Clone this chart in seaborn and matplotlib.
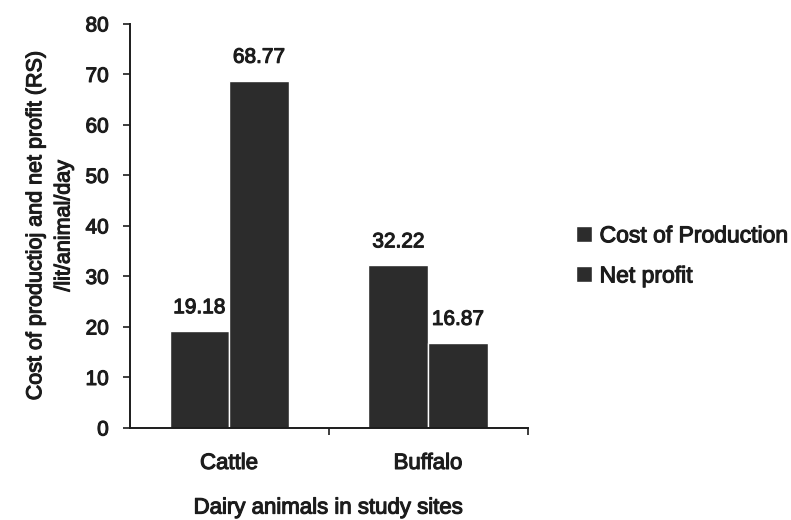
# Import libraries
import pandas as pd
import matplotlib.pyplot as plt
import matplotlib.patheffects as pe
import seaborn as sns

# Chart data
animals = ["Cattle", "Buffalo"]
series = ["Cost of Production", "Net profit"]
cost_of_production = [19.18, 32.22]
net_profit = [68.77, 16.87]

# Long-form table for seaborn
df = pd.DataFrame({
    "Animal": animals * 2,
    "Series": [series[0]] * 2 + [series[1]] * 2,
    "Value": cost_of_production + net_profit,
})

sns.set_style("white")
plt.rcParams['font.family'] = ['Liberation Sans', 'DejaVu Sans']

ink = "#1c1c1c"
# scanned print looks heavy, so thicken regular text a little
heavy = [pe.withStroke(linewidth=0.8, foreground=ink)]

fig = plt.figure(figsize=(7.91, 5.2), dpi=100)
ax = fig.add_axes([0.164, 0.177, 0.503, 0.777])

bar_color = "#2c2c2c"
sns.barplot(data=df, x="Animal", y="Value", hue="Series", order=animals,
            hue_order=series, palette=[bar_color, bar_color], width=0.6,
            edgecolor="white", linewidth=1, ax=ax)

# Value labels above bars
for container in ax.containers:
    for t in ax.bar_label(container, fmt="%.2f", padding=10, fontsize=15, color=ink):
        t.set_path_effects(heavy)

# Axes styling
ax.set_ylim(0, 80)
ax.set_xlim(-0.5, 1.5)
ax.set_yticks(range(0, 81, 10))
ax.tick_params(axis="y", direction="out", length=5, width=1.2, left=True,
               labelsize=15, pad=10, color=ink, labelcolor=ink)
ax.tick_params(axis="x", which="major", length=0, labelsize=16, pad=18, labelcolor=ink)
ax.set_xticks([0.5, 1.5], minor=True)
ax.tick_params(axis="x", which="minor", direction="out", length=5, width=1.2,
               bottom=True, color=ink)
for lbl in ax.get_xticklabels() + ax.get_yticklabels():
    lbl.set_path_effects(heavy)

sns.despine(ax=ax)
for side in ["left", "bottom"]:
    ax.spines[side].set_color(ink)
    ax.spines[side].set_linewidth(1.4)

ax.set_xlabel("Dairy animals in study sites", fontsize=16, color=ink, labelpad=17)
ax.set_ylabel("Cost of productioj and net profit (RS)\n/lit/animal/day", fontsize=15.5,
              color=ink, labelpad=8, linespacing=1.45)
ax.xaxis.label.set_path_effects(heavy)
ax.yaxis.label.set_path_effects(heavy)

# Legend on the right, no frame
handles, labels = ax.get_legend_handles_labels()
leg = ax.legend(handles, labels, loc="center left", bbox_to_anchor=(0.716, 0.508),
                bbox_transform=fig.transFigure, frameon=False, fontsize=16.5,
                handlelength=0.7, handleheight=0.7, handletextpad=0.35,
                labelspacing=0.75, borderaxespad=0)
for t in leg.get_texts():
    t.set_color(ink)
    t.set_path_effects(heavy)

plt.savefig("out.png", dpi=100)
